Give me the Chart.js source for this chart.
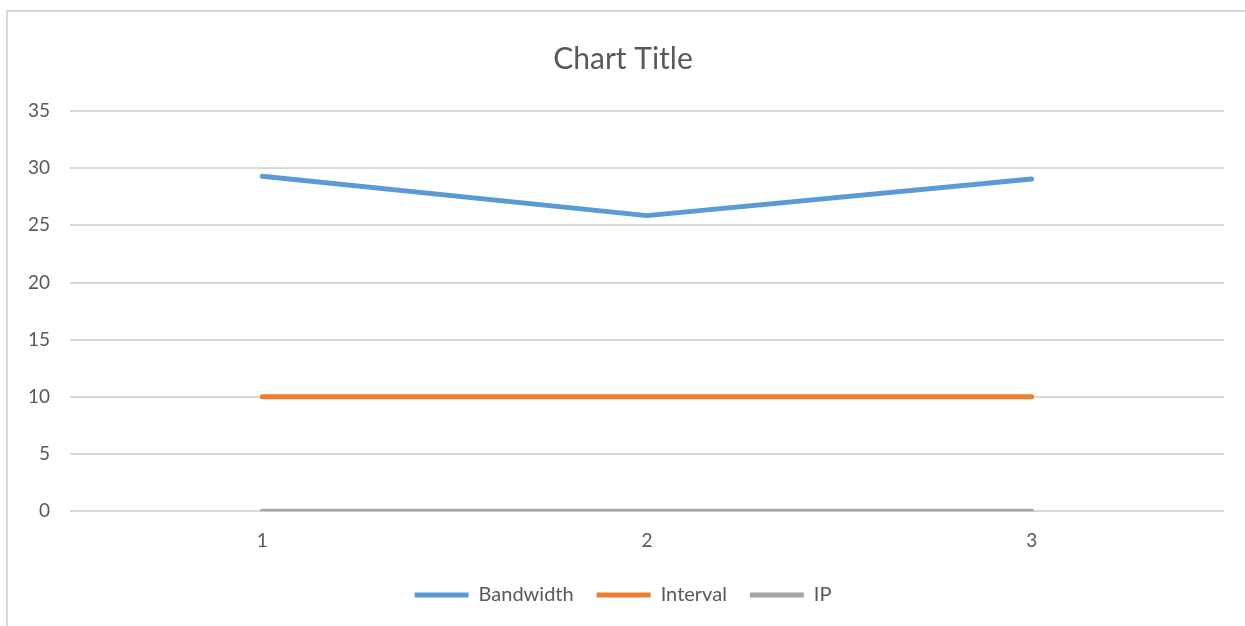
<!DOCTYPE html>
<html>
<head>
<meta charset="utf-8">
<script src="https://cdn.jsdelivr.net/npm/chart.js@4/dist/chart.umd.min.js"></script>
<style>
  html, body { margin: 0; padding: 0; background: #fff; }
  #wrap { position: relative; width: 1245px; height: 626px; overflow: hidden; }
  #frame { position: absolute; left: 6px; top: 10px; width: 1300px; height: 700px;
           border-top: 2px solid #d9d9d9; border-left: 2px solid #d9d9d9; }
  #chart { position: absolute; left: 0; top: 0; }
</style>
</head>
<body>
<div id="wrap">
  <div id="frame"></div>
  <canvas id="chart" width="1245" height="626"></canvas>
</div>
<script>
  const categories = ['1', '2', '3'];
  const bandwidth = [29.3, 25.85, 29.05];
  const interval = [10, 10, 10];
  const ip = [0, 0, 0];
  const yTicks = [0, 5, 10, 15, 20, 25, 30, 35];

  const font = 'Lato, "Open Sans", sans-serif';
  const textColor = '#595959';

  const series = (label, data, color) => ({
    label,
    data,
    borderColor: color,
    backgroundColor: color,
    borderWidth: 5,
    borderCapStyle: 'round',
    borderJoinStyle: 'round',
    pointRadius: 0,
    pointHoverRadius: 0,
    tension: 0,
  });

  new Chart(document.getElementById('chart'), {
    type: 'line',
    data: {
      labels: categories,
      datasets: [
        series('Bandwidth', bandwidth, '#5b9bd5'),
        series('Interval', interval, '#ed7d31'),
        series('IP', ip, '#a5a5a5'),
      ],
    },
    options: {
      responsive: false,
      animation: false,
      layout: { padding: { left: 22, right: 21, top: 41, bottom: 11 } },
      plugins: {
        title: {
          display: true,
          text: 'Chart Title',
          color: textColor,
          font: { family: font, size: 30, weight: 'normal' },
          padding: { top: 0, bottom: 34 },
        },
        legend: {
          position: 'bottom',
          labels: {
            color: textColor,
            font: { family: font, size: 20 },
            boxWidth: 54,
            boxHeight: 5,
            padding: 23,
            generateLabels: (chart) =>
              chart.data.datasets.map((ds, i) => ({
                text: ds.label,
                fillStyle: ds.borderColor,
                strokeStyle: ds.borderColor,
                lineWidth: 0,
                datasetIndex: i,
                fontColor: textColor,
              })),
          },
        },
        tooltip: { enabled: false },
      },
      scales: {
        x: {
          offset: true,
          grid: { display: false },
          border: { display: false },
          ticks: { color: textColor, font: { family: font, size: 19 }, padding: 10 },
        },
        y: {
          min: 0,
          max: 35,
          afterBuildTicks: (axis) => { axis.ticks = yTicks.map((v) => ({ value: v })); },
          afterFit: (axis) => { axis.width = 48; },
          grid: { color: '#d9d9d9', lineWidth: 2, drawTicks: false },
          border: { display: false },
          ticks: { color: textColor, font: { family: font, size: 19 }, padding: 20 },
        },
      },
    },
  });
</script>
</body>
</html>
